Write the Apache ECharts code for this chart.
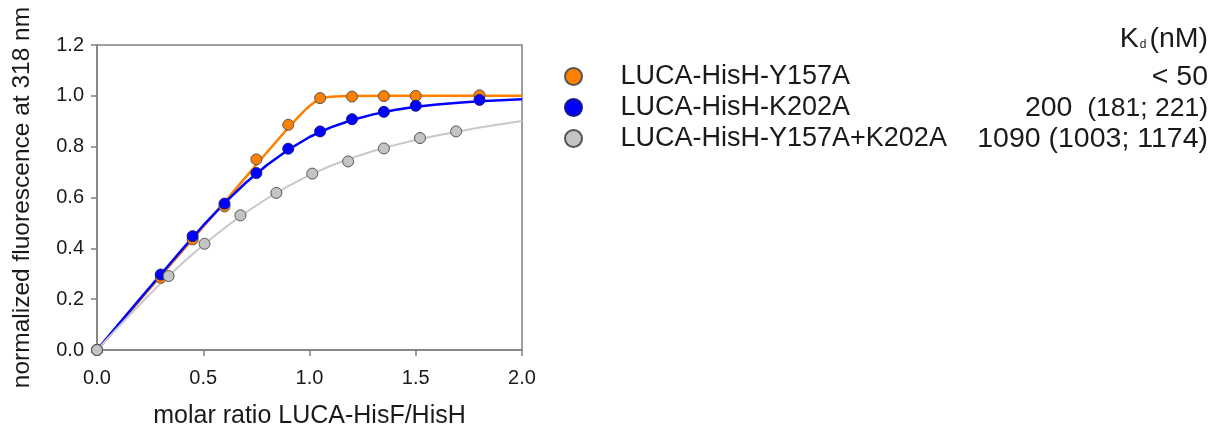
<!DOCTYPE html>
<html>
<head>
<meta charset="utf-8">
<style>
  html, body { margin: 0; padding: 0; background: #ffffff; }
  #chart { width: 1213px; height: 429px; }
</style>
<script src="https://cdn.jsdelivr.net/npm/echarts@6/dist/echarts.min.js"></script>
</head>
<body>
<div id="chart"></div>
<script>
// Titration data: molar ratio LUCA-HisF/HisH vs. normalized fluorescence
const seriesNames = ['LUCA-HisH-Y157A', 'LUCA-HisH-K202A', 'LUCA-HisH-Y157A+K202A'];
const kdMain = ['< 50', '200', '1090'];
const kdRange = ['', '(181; 221)', '(1003; 1174)'];

const xY157A = [0, 0.3, 0.45, 0.6, 0.75, 0.9, 1.05, 1.2, 1.35, 1.5, 1.8];
const yY157A = [0, 0.284, 0.435, 0.565, 0.750, 0.886, 0.991, 0.997, 0.999, 1.0, 1.002];

const xK202A = [0, 0.3, 0.45, 0.6, 0.75, 0.9, 1.05, 1.2, 1.35, 1.5, 1.8];
const yK202A = [0, 0.297, 0.448, 0.576, 0.696, 0.792, 0.860, 0.908, 0.937, 0.961, 0.984];

const xDouble = [0, 0.337, 0.506, 0.675, 0.844, 1.013, 1.182, 1.35, 1.52, 1.69];
const yDouble = [0, 0.291, 0.418, 0.530, 0.618, 0.694, 0.742, 0.793, 0.834, 0.860];

// Fitted binding curves, sampled along the x range
const fitXY157A = [0, 0.1, 0.2, 0.3, 0.4, 0.5, 0.6, 0.7, 0.8, 0.9, 0.95, 0.98, 1.0, 1.02, 1.04, 1.06, 1.08, 1.1, 1.15, 1.2, 1.4, 1.6, 1.8, 2.0];
const fitYY157A = [0, 0.097, 0.194, 0.291, 0.388, 0.485, 0.582, 0.680, 0.778, 0.874, 0.919, 0.945, 0.960, 0.973, 0.983, 0.990, 0.994, 0.996, 0.998, 0.999, 1.0, 1.0, 1.0, 1.0];

const fitXK202A = [0, 0.1, 0.2, 0.3, 0.4, 0.5, 0.6, 0.7, 0.8, 0.9, 1.0, 1.1, 1.2, 1.3, 1.4, 1.5, 1.6, 1.7, 1.8, 1.9, 2.0];
const fitYK202A = [0, 0.100, 0.199, 0.297, 0.395, 0.490, 0.578, 0.658, 0.728, 0.788, 0.838, 0.876, 0.905, 0.927, 0.944, 0.957, 0.966, 0.973, 0.979, 0.983, 0.987];

const fitXDouble = [0, 0.1, 0.2, 0.3, 0.4, 0.5, 0.6, 0.7, 0.8, 0.9, 1.0, 1.1, 1.2, 1.3, 1.4, 1.5, 1.6, 1.7, 1.8, 1.9, 2.0];
const fitYDouble = [0, 0.090, 0.178, 0.262, 0.340, 0.413, 0.480, 0.541, 0.596, 0.645, 0.688, 0.725, 0.756, 0.783, 0.806, 0.826, 0.844, 0.860, 0.875, 0.888, 0.901];

const xTicks = [0, 0.5, 1.0, 1.5, 2.0];
const yTicks = [0, 0.2, 0.4, 0.6, 0.8, 1.0, 1.2];

const colors = ['#ff8000', '#0000ff', '#c4c4c4'];
const lineColors = ['#ff8000', '#0000ff', '#c8c8c8'];
const FONT = 'Liberation Sans, Arial, sans-serif';
const INK = '#1a1a1a';

const zip = (xs, ys) => xs.map((x, i) => [x, ys[i]]);

const pointSets = [zip(xY157A, yY157A), zip(xK202A, yK202A), zip(xDouble, yDouble)];
const fitSets = [zip(fitXY157A, fitYY157A), zip(fitXK202A, fitYK202A), zip(fitXDouble, fitYDouble)];

const series = [];
fitSets.forEach((d, i) => {
  series.push({
    name: 'fit ' + seriesNames[i],
    type: 'line',
    data: d,
    smooth: false,
    showSymbol: false,
    symbol: 'none',
    lineStyle: { color: lineColors[i], width: i === 2 ? 2 : 2.5 },
    z: 2,
    silent: true
  });
});
pointSets.forEach((d, i) => {
  series.push({
    name: seriesNames[i],
    type: 'scatter',
    data: d,
    symbol: 'circle',
    symbolSize: 11,
    itemStyle: {
      color: colors[i],
      borderColor: i === 1 ? '#1a1a80' : '#555555',
      borderWidth: 1,
      opacity: 1
    },
    z: 3 + i
  });
});

// Kd column: right-aligned text rows beside the legend
const kdRows = kdMain.map((m, i) => {
  let text = '{m|' + m + '}';
  if (kdRange[i]) text += (i === 1 ? '{s|  ' + kdRange[i] + '}' : '{m| ' + kdRange[i] + '}');
  return {
    type: 'text',
    right: 5,
    top: 63 + i * 31,
    style: {
      text: text,
      fill: INK,
      rich: {
        m: { fontSize: 28.5, fontFamily: FONT, fill: INK, lineHeight: 31, verticalAlign: 'middle' },
        s: { fontSize: 26.5, fontFamily: FONT, fill: INK, lineHeight: 31, verticalAlign: 'middle' }
      }
    }
  };
});

const chart = echarts.init(document.getElementById('chart'), null, { renderer: 'canvas' });

chart.setOption({
  animation: false,
  backgroundColor: '#ffffff',
  textStyle: { fontFamily: FONT },
  grid: {
    left: 97, right: 691, top: 45, bottom: 79,
    containLabel: false,
    outerBoundsMode: 'none',
    show: true, borderColor: '#808080', borderWidth: 1.5
  },
  xAxis: {
    type: 'value',
    min: 0, max: 2, interval: 0.5,
    name: 'molar ratio LUCA-HisF/HisH',
    nameLocation: 'middle',
    nameGap: 54,
    nameTextStyle: { fontSize: 25, color: INK, fontFamily: FONT },
    axisLine: { show: true, lineStyle: { color: '#808080', width: 1.5 } },
    axisTick: { show: true, length: 6, inside: false, lineStyle: { color: '#808080', width: 1.5 } },
    axisLabel: {
      fontSize: 20, color: INK, margin: 18, fontFamily: FONT,
      formatter: v => xTicks.includes(v) ? v.toFixed(1) : ''
    },
    splitLine: { show: false }
  },
  yAxis: {
    type: 'value',
    min: 0, max: 1.2, interval: 0.2,
    name: 'normalized fluorescence at 318 nm',
    nameLocation: 'middle',
    nameGap: 62,
    nameTextStyle: { fontSize: 24.5, color: INK, fontFamily: FONT },
    axisLine: { show: true, lineStyle: { color: '#808080', width: 1.5 } },
    axisTick: { show: true, length: 6, inside: false, lineStyle: { color: '#808080', width: 1.5 } },
    axisLabel: {
      fontSize: 20, color: INK, margin: 13, fontFamily: FONT,
      formatter: v => {
        const t = yTicks.find(k => Math.abs(k - v) < 1e-9);
        return t === undefined ? '' : t.toFixed(1);
      }
    },
    splitLine: { show: false }
  },
  legend: {
    orient: 'vertical',
    left: 559,
    top: 56,
    data: seriesNames,
    icon: 'circle',
    itemWidth: 84,
    itemHeight: 17,
    itemGap: 0,
    selectedMode: false,
    textStyle: { fontSize: 27, color: INK, lineHeight: 31, fontFamily: FONT }
  },
  graphic: [
    {
      type: 'text',
      right: 5,
      top: 25,
      style: {
        text: '{k|K}{d|d}{u|(nM)}',
        fill: INK,
        fontFamily: FONT,
        rich: {
          k: { fontSize: 28.5, fontFamily: FONT, fill: INK, lineHeight: 33, verticalAlign: 'bottom' },
          d: { fontSize: 12, fontFamily: FONT, fill: INK, lineHeight: 33, verticalAlign: 'bottom', padding: [0, 3, 3, 1] },
          u: { fontSize: 28.5, fontFamily: FONT, fill: INK, lineHeight: 33, verticalAlign: 'bottom' }
        }
      }
    }
  ].concat(kdRows),
  series: series
});
</script>
</body>
</html>
